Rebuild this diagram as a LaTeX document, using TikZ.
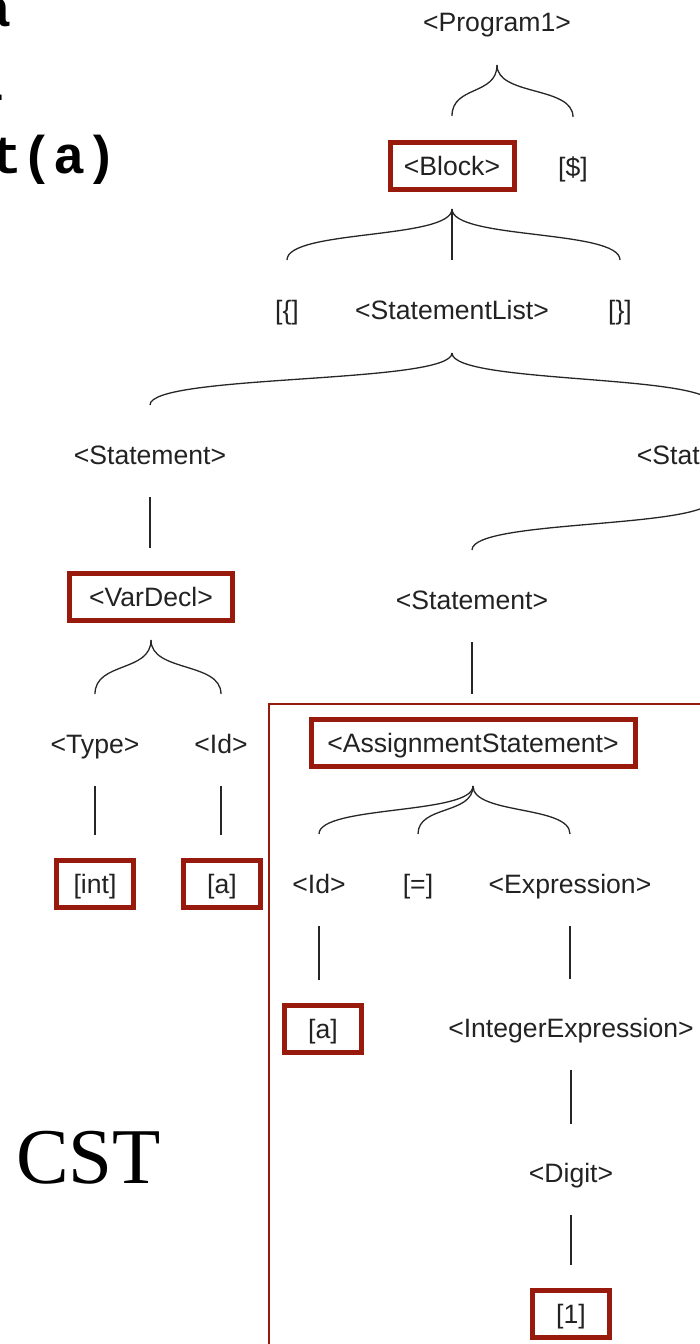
\documentclass[tikz,border=0pt]{standalone}
\usepackage{fontspec}
\setmainfont{Liberation Serif}
\newfontfamily\treefont{Liberation Sans}
\newfontfamily\codefont{Liberation Mono}
\usetikzlibrary{calc}
\definecolor{boxred}{RGB}{152,26,12}
\definecolor{txtgray}{RGB}{34,34,34}
\tikzset{
  lbl/.style={font=\treefont\fontsize{13.3}{16}\selectfont, text=txtgray, inner sep=0pt, text height=9.5pt, text depth=0pt},
  boxed/.style={lbl, draw=boxred, line width=2.5pt, minimum height=23.5pt, minimum width=38.5pt},
  conn/.style={draw=black!85, line width=0.65pt},
  codeline/.style={font=\codefont\bfseries\fontsize{26.5}{30}\selectfont, inner sep=0pt, anchor=base west},
  bigframe/.style={draw=boxred, line width=1pt},
}
\newcommand{\treearm}[2]{%
  \draw[conn] let \p1=($(#1)+(0,43)$), \p2=($(#2)+(0,-50)$) in
    (\p1) .. controls ($(\p1)!0.6!(\x1,\y2)$) and ($(\p2)!0.6!(\x2,\y1)$) .. (\p2);}
\newcommand{\treeline}[2]{%
  \draw[conn] ($(#1)+(0,42)$) -- ($(#1|-#2)+(0,-49)$);}
\begin{document}
\begin{tikzpicture}[x=0.5pt,y=-0.5pt]
\useasboundingbox (0,0) rectangle (700,1344);
\clip (0,0) rectangle (700,1344);

% code fragment (cut at the left edge)
\node[codeline] (c1) at (-148,26) {int a};
\node[codeline] (c2) at (-155,100) {a = 1};
\node[codeline] (c3) at (-137.5,173) {print(a)};

% big frame
\draw[bigframe] (269,704) rectangle (720,1360);

% tree nodes
\node[lbl] (prog) at (497,22) {<Program1>};
\node[boxed, minimum width=62pt] (block) at (452,166) {<Block>};
\node[lbl] (dollar) at (573,167) {[\$]};
\node[lbl] (lbr) at (287,310) {[\{]};
\node[lbl] (stlist) at (452,310) {<StatementList>};
\node[lbl] (rbr) at (620,310) {[\}]};
\node[lbl] (st1) at (150,455) {<Statement>};
\node[lbl] (st2) at (713,455) {<Statement>};
\node[boxed, minimum width=81.5pt] (vardecl) at (151,597) {<VarDecl>};
\node[lbl] (type) at (95,744) {<Type>};
\node[lbl] (id1) at (221,744) {<Id>};
\node[boxed] (int) at (95,884) {[int]};
\node[boxed] (a1) at (222,884) {[a]};
\node[lbl] (st3) at (472,600) {<Statement>};
\node[boxed, minimum width=162pt] (assign) at (473,743) {<AssignmentStatement>};
\node[lbl] (id2) at (319,884) {<Id>};
\node[lbl] (eq) at (418,884) {[=]};
\node[lbl] (expr) at (570,884) {<Expression>};
\node[boxed] (a2) at (323,1029) {[a]};
\node[lbl] (intexpr) at (571,1028) {<IntegerExpression>};
\node[lbl] (digit) at (571,1173) {<Digit>};
\node[boxed] (one) at (571,1314) {[1]};

\node[font=\fontsize{39.5}{44}\selectfont, inner sep=0pt, anchor=base] (cst) at (88.5,1183) {CST};

% connectors
\treearm{prog}{block}
\treearm{prog}{dollar}
\treearm{block}{lbr}
\treearm{block}{stlist}
\treearm{block}{rbr}
\treearm{stlist}{st1}
\treearm{stlist}{st2}
\treeline{st1}{vardecl}
\treearm{vardecl}{type}
\treearm{vardecl}{id1}
\treeline{type}{int}
\treeline{id1}{a1}
\treearm{st2}{st3}
\treeline{st3}{assign}
\treearm{assign}{id2}
\treearm{assign}{eq}
\treearm{assign}{expr}
\treeline{id2}{a2}
\treeline{expr}{intexpr}
\treeline{intexpr}{digit}
\treeline{digit}{one}
\end{tikzpicture}
\end{document}
